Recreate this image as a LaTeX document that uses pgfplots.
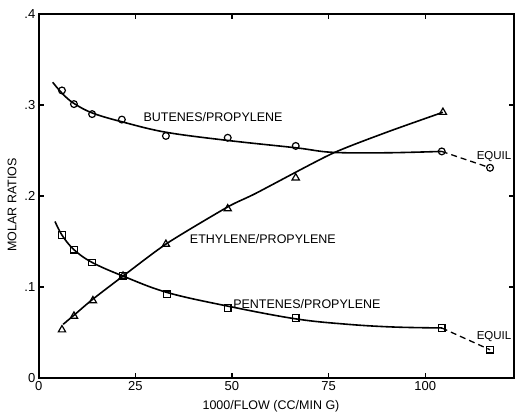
\documentclass[border=0pt]{standalone}
\usepackage{pgfplots}
\pgfplotsset{compat=1.18}
\usepackage{fontspec}
\setmainfont{Liberation Sans}
\newcommand{\lf}{\fontsize{12.5}{13}\selectfont}
\begin{document}
\begin{tikzpicture}
\path[use as bounding box] (0,0) rectangle (516pt,416pt);
\begin{axis}[
  at={(38.8pt,38pt)}, anchor=south west,
  scale only axis, width=475.2pt, height=364pt,
  xmin=0, xmax=123, ymin=0, ymax=0.4,
  axis line style={line width=1.5pt},
  tick style={line width=1.2pt, black},
  major tick length=5pt,
  tick align=inside,
  xtick={0,25,50,75,100}, xticklabels={0,25,50,75,100},
  ytick={0,0.1,0.2,0.3,0.4}, yticklabels={0,.1,.2,.3,.4},
  tick label style={font=\fontsize{13}{14}\selectfont},
  clip=false,
  every axis plot/.append style={line width=1.6pt},
]
% fitted curves
\addplot[black, smooth, tension=0.6] coordinates {
(3.6,0.325) (6,0.313) (9,0.302) (14,0.291) (22,0.281) (33,0.270) (49,0.261) (66.5,0.253) (76,0.248) (90,0.2475) (104.3,0.249)};
\addplot[black, smooth, tension=0.6] coordinates {
(4.2,0.172) (6,0.157) (9.1,0.141) (13.8,0.127) (21.8,0.112) (33.2,0.094) (48.9,0.079) (66.5,0.065) (80,0.059) (92,0.056) (104.3,0.055)};
\addplot[black, smooth, tension=0.4] coordinates {
(6.3,0.059) (9.1,0.069) (13.8,0.086) (21.8,0.112) (33.2,0.148) (48.9,0.188) (56.2,0.203) (75.6,0.246) (90,0.270) (104.6,0.292)};
% dashed equilibrium
\addplot[black, dash pattern=on 6pt off 4pt, line width=1.3pt] coordinates {(104.3,0.249) (116.8,0.231)};
\addplot[black, dash pattern=on 6pt off 4pt, line width=1.3pt] coordinates {(104.3,0.055) (116.8,0.031)};
% data points
\addplot[only marks, mark=o, mark size=3.4pt, mark options={fill=white, line width=1.2pt}] coordinates {
(6.0,0.316) (9.1,0.301) (13.8,0.290) (21.5,0.284) (32.9,0.266) (48.9,0.264) (66.5,0.255) (104.3,0.249) (116.8,0.231)};
\addplot[only marks, mark=square, mark size=3.3pt, mark options={fill=white, line width=1.2pt}] coordinates {
(6.0,0.157) (9.1,0.141) (13.8,0.127) (21.8,0.112) (33.2,0.092) (48.9,0.077) (66.5,0.066) (104.3,0.055) (116.8,0.031)};
\addplot[only marks, mark=triangle, mark size=4.2pt, mark options={fill=white, line width=1.2pt}] coordinates {
(6.0,0.053) (9.1,0.068) (14.0,0.085) (21.8,0.112) (32.9,0.147) (48.9,0.186) (66.5,0.220) (104.6,0.292)};
% labels
\node[font=\lf] at (axis cs:45.1,0.287) {BUTENES/PROPYLENE};
\node[font=\lf] at (axis cs:58.0,0.153) {ETHYLENE/PROPYLENE};
\node[font=\lf] at (axis cs:69.4,0.081) {PENTENES/PROPYLENE};
\node[font=\fontsize{11.5}{12}\selectfont, anchor=east, inner sep=1pt] at (axis cs:122.6,0.243) {EQUIL};
\node[font=\fontsize{11.5}{12}\selectfont, anchor=east, inner sep=1pt] at (axis cs:122.6,0.045) {EQUIL};
\end{axis}
\node[font=\lf, rotate=90] at (12pt,211pt) {MOLAR RATIOS};
\node[font=\lf] at (271pt,10pt) {1000/FLOW (CC/MIN G)};
\end{tikzpicture}
\end{document}
